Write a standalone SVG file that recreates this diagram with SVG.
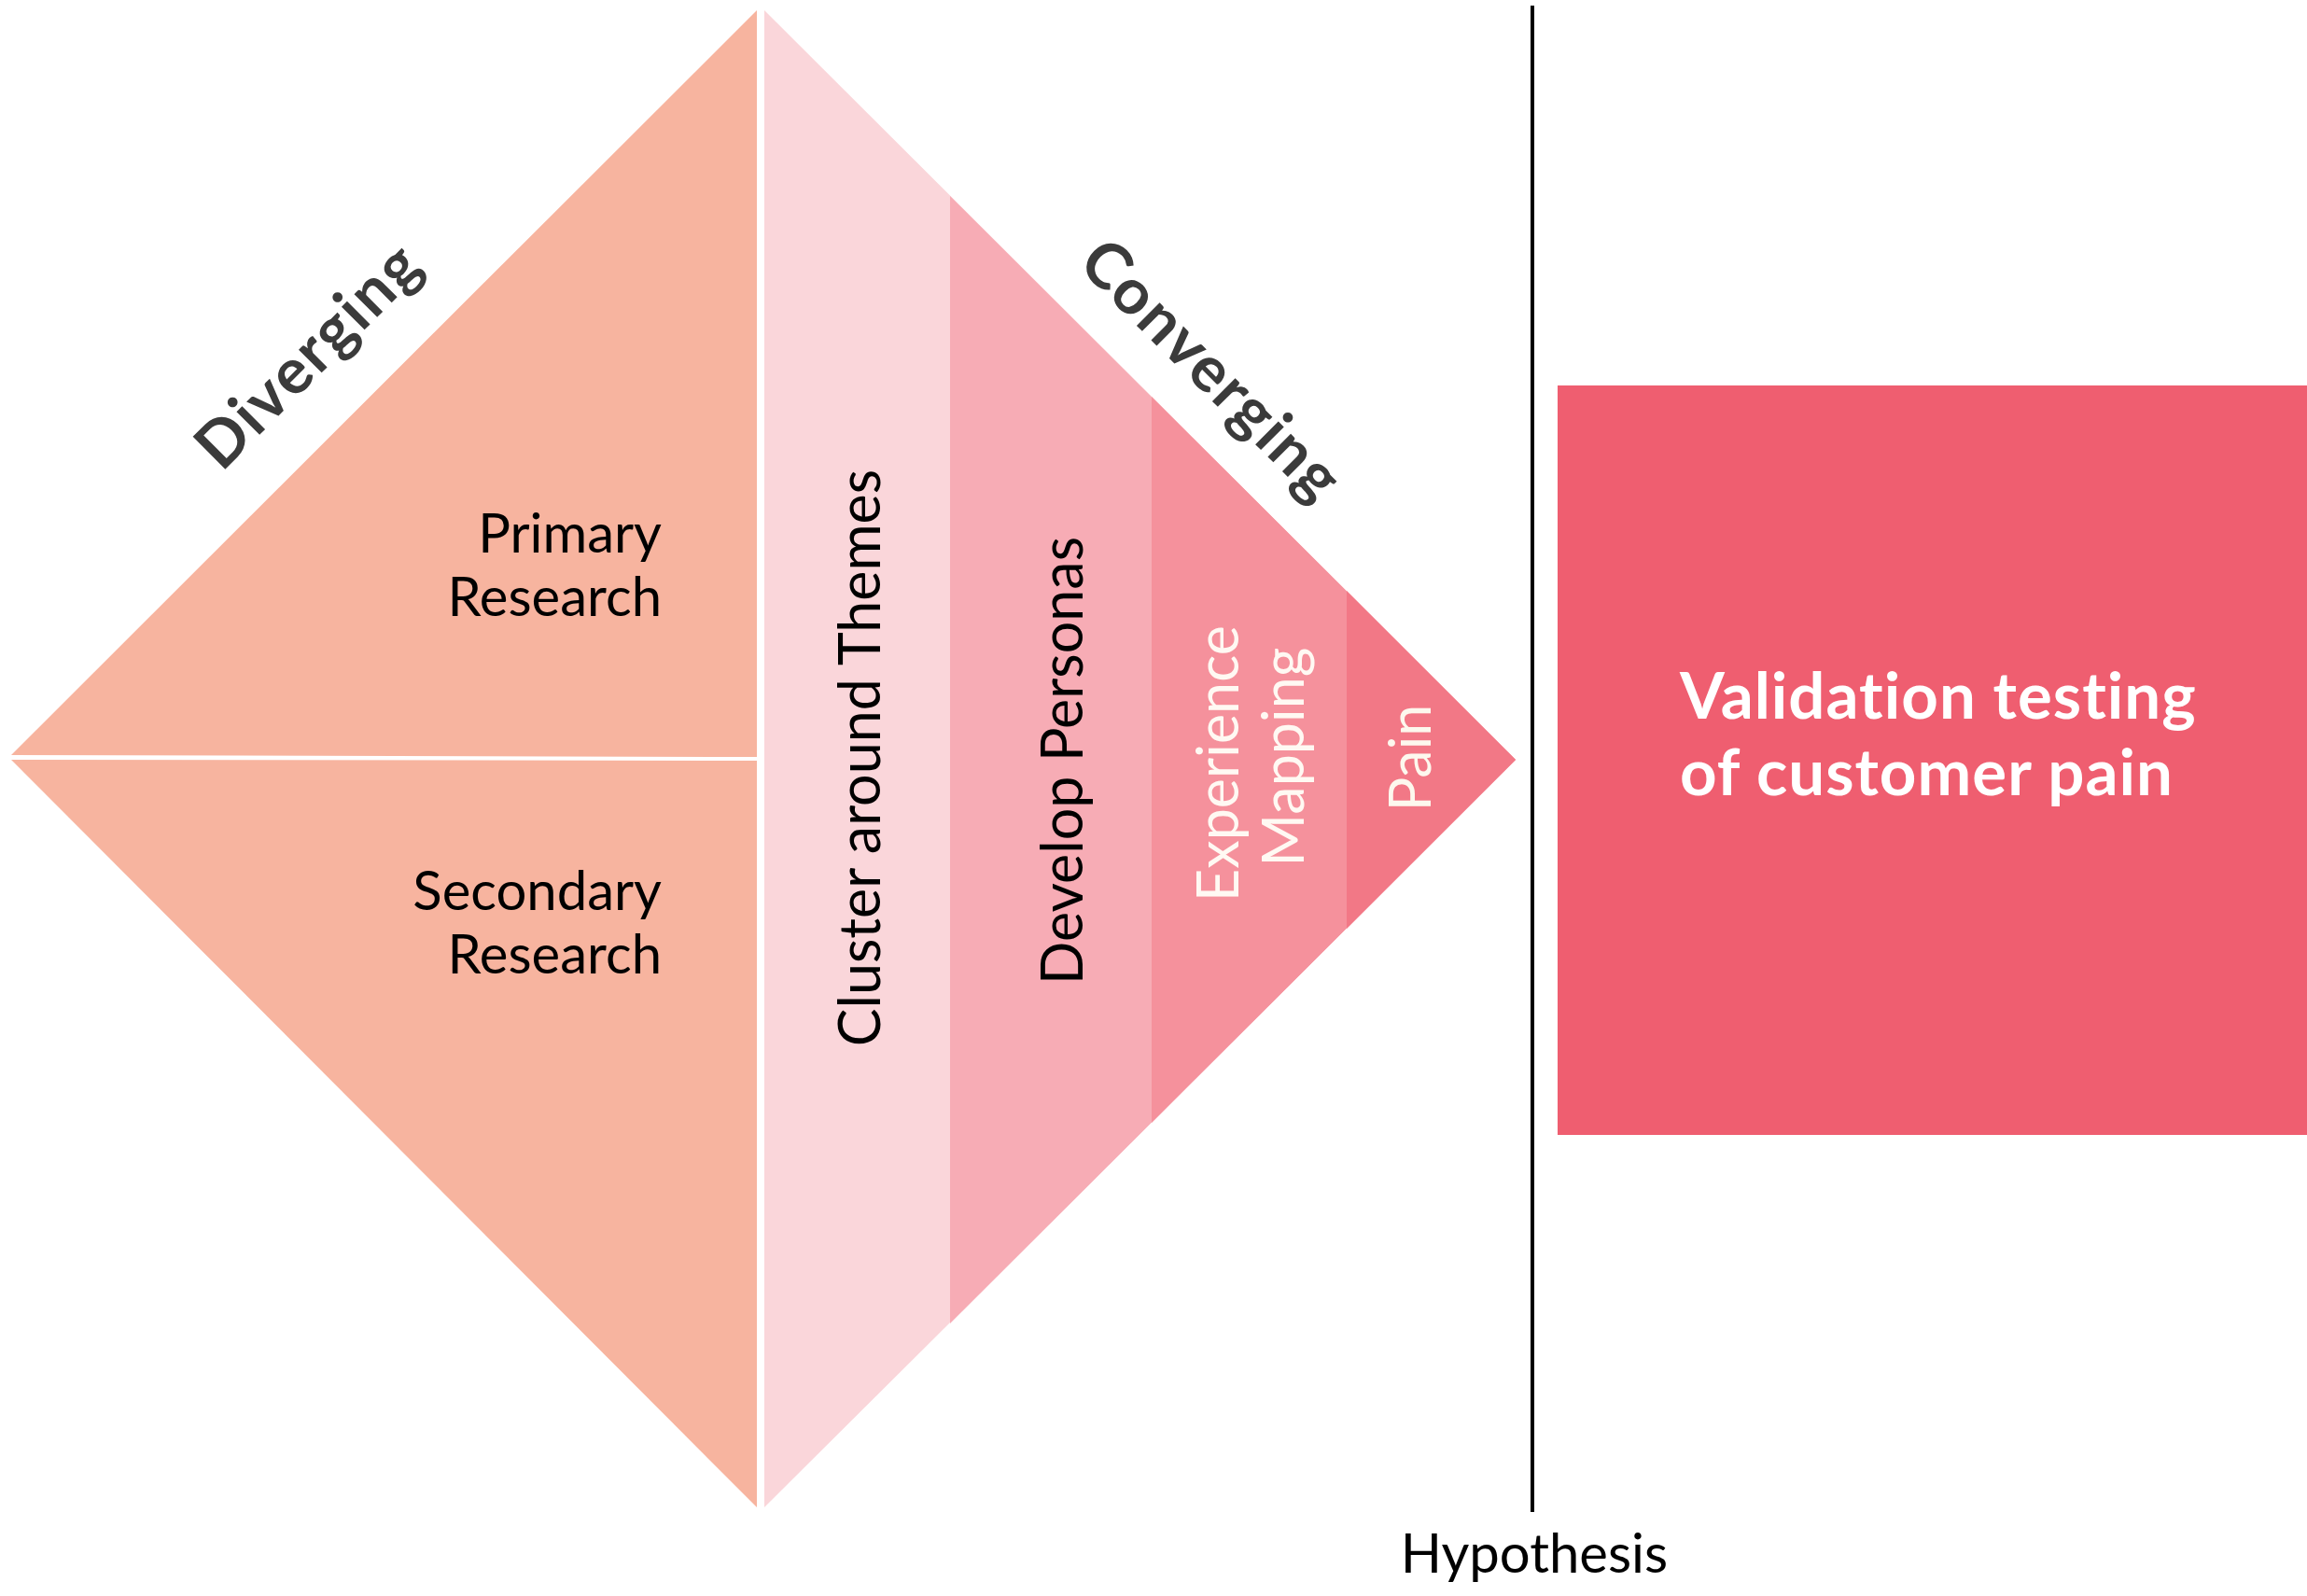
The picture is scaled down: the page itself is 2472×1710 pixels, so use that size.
<svg xmlns="http://www.w3.org/2000/svg" width="2472" height="1710" viewBox="0 0 2472 1710">
<style>
.lbl{font-family:Lato,"Liberation Sans",sans-serif;font-size:58px;fill:#000}
.rot{font-family:Lato,"Liberation Sans",sans-serif;font-size:61px;fill:#000;text-anchor:middle}
.wht{fill:#FFF9F3}
.phase{font-family:Lato,"Liberation Sans",sans-serif;font-size:68px;font-weight:700;fill:#3B3B3B;text-anchor:middle;letter-spacing:2px}
.big{font-family:Lato,"Liberation Sans",sans-serif;font-size:69px;font-weight:700;fill:#FFFFFF;letter-spacing:1px}
</style>
<rect width="2472" height="1710" fill="#FFFFFF"/>
<g id="primary-research">
<polygon points="12,809 811,11 811,811" fill="#F7B49F"/>
<text class="lbl" x="709" y="592" text-anchor="end">Primary</text>
<text class="lbl" x="709" y="660" text-anchor="end">Research</text>
</g>
<g id="secondary-research">
<polygon points="12,814 811,815 811,1615" fill="#F7B49F"/>
<text class="lbl" x="709" y="975" text-anchor="end">Secondary</text>
<text class="lbl" x="709" y="1043" text-anchor="end">Research</text>
</g>
<g id="cluster-themes">
<polygon points="819,11 1624,814 819,1615" fill="#FAD6DA"/>
<text class="rot" transform="translate(943,812) rotate(-90)">Cluster around Themes</text>
</g>
<g id="develop-personas">
<polygon points="1018,210 1624,814 1018,1418" fill="#F7ACB5"/>
<text class="rot" transform="translate(1160,815) rotate(-90)">Develop Personas</text>
</g>
<g id="experience-mapping">
<polygon points="1234,425 1624,814 1234,1203" fill="#F5919C"/>
<text class="rot wht" transform="translate(1327,818) rotate(-90)">Experience</text>
<text class="rot wht" transform="translate(1397,811) rotate(-90)">Mapping</text>
</g>
<g id="pain">
<polygon points="1443,633 1624,814 1443,995" fill="#F27886"/>
<text class="rot" style="fill:#FDF8EE" transform="translate(1533,812) rotate(-90)">Pain</text>
</g>
<g id="diverging-label">
<text class="phase" transform="translate(347,397) rotate(-45)">Diverging</text>
</g>
<g id="converging-label">
<text class="phase" transform="translate(1282,413) rotate(45)">Converging</text>
</g>
<g id="validation">
<rect x="1669" y="413" width="803" height="803" fill="#EF5E70"/>
<text class="big" x="1800" y="770">Validation testing</text>
<text class="big" x="1800" y="852">of customer pain</text>
</g>
<g id="connectors">
<line x1="1642" y1="6" x2="1642" y2="1620" stroke="#000000" stroke-width="4"/>
</g>
<g id="hypothesis">
<text class="lbl" x="1644" y="1685" text-anchor="middle">Hypothesis</text>
</g>
</svg>
